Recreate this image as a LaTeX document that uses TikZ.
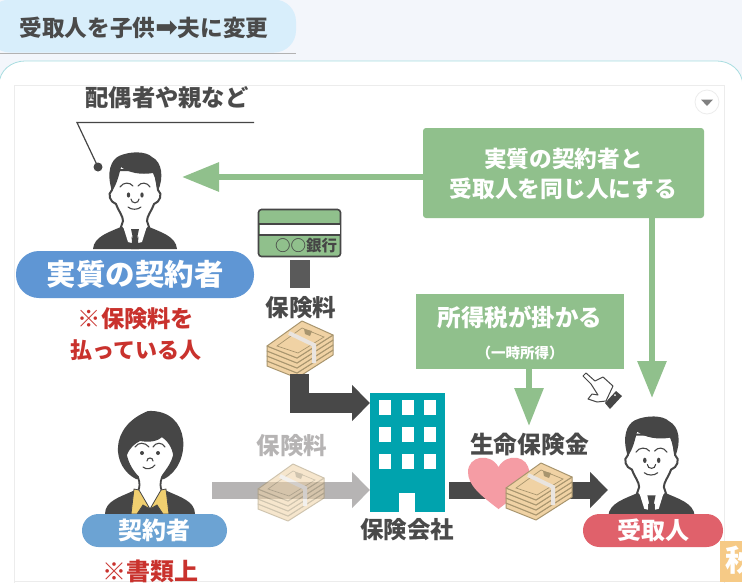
\documentclass[tikz,border=0pt]{standalone}
\usepackage{fontspec}
\setmainfont{Noto Sans CJK JP}
\newfontfamily\arrowfont{DejaVu Sans}
\usetikzlibrary{arrows.meta}
\definecolor{pagebg}{HTML}{F3F6FB}
\definecolor{titlebg}{HTML}{D8EEFB}
\definecolor{cardedge}{HTML}{A8DDE0}
\definecolor{frameedge}{HTML}{ECECEC}
\definecolor{inkdark}{HTML}{464646}
\definecolor{inktext}{HTML}{4A4A4A}
\definecolor{leaf}{HTML}{90C08C}
\definecolor{darkarrow}{HTML}{484848}
\definecolor{grayarrow}{HTML}{B6B4B4}
\definecolor{bluepill}{HTML}{5F96D4}
\definecolor{bluepilltwo}{HTML}{6CA3D3}
\definecolor{redpill}{HTML}{E0616B}
\definecolor{redtext}{HTML}{C9322D}
\definecolor{teal}{HTML}{00A3AE}
\definecolor{heartpink}{HTML}{F59CA4}
\definecolor{cash}{HTML}{F0D2A4}
\definecolor{cashline}{HTML}{A8956E}
\definecolor{strap}{HTML}{E9E4DF}
\definecolor{collar}{HTML}{F0CF70}
\definecolor{tile}{HTML}{F6CA86}
\tikzset{
  x=1pt,y=-1pt,
  txt/.style n args={2}{inner sep=0pt,font=\bfseries\fontsize{#1}{#1}\selectfont,text=#2,align=center},
  pill/.style n args={3}{fill=#1,minimum width=#2,minimum height=#3,rounded corners=16.4pt,inner sep=0pt,text=white},
  greenbox/.style={fill=leaf,inner sep=0pt,text=white},
  greenline/.style={draw=leaf,line width=6pt,-{Triangle[length=37pt,width=28pt]}},
  greenlineshort/.style={draw=leaf,line width=6pt,-{Triangle[length=38pt,width=28pt]}},
  blockdark/.style={draw=darkarrow,line width=18pt,-{Triangle[length=18pt,width=35pt]}},
  blockgray/.style={draw=grayarrow,line width=17pt,-{Triangle[length=18pt,width=35pt]}},
  faceline/.style={draw=inkdark,line width=1.1pt,line cap=round},
  pics/manfig/.style={code={
    \fill[inkdark] (8,99) .. controls (9,86) and (25,82) .. (38,76) -- (62,76) .. controls (75,82) and (91,86) .. (92,99) -- cycle;
    \draw[draw=inkdark,line width=2pt,fill=white] (27,40) .. controls (22,44) and (25,52) .. (31,54) .. controls (34,62) and (38,66) .. (38,71) -- (36,77) -- (50,92) -- (64,77) -- (62,71) .. controls (62,66) and (66,62) .. (69,54) .. controls (75,52) and (78,44) .. (73,40) -- (70,20) -- (30,20) -- cycle;
    \fill[inkdark] (27,41) .. controls (21,22) and (26,10) .. (34,6) .. controls (45,1) and (61,1) .. (67,7) .. controls (77,12) and (79,27) .. (73,41) .. controls (71,35) and (71,29) .. (68,23) .. controls (56,25) and (44,23) .. (36,17) .. controls (34,25) and (32,34) .. (27,41) -- cycle;
    \draw[faceline] (35,37) .. controls (38,32) and (45,32) .. (48,36);
    \draw[faceline] (53,36) .. controls (56,32) and (62,32) .. (65,37);
    \fill[inkdark] (43.5,45) ellipse [x radius=1.7,y radius=2.6];
    \fill[inkdark] (57,45) ellipse [x radius=1.7,y radius=2.6];
    \draw[faceline] (46,49) .. controls (46,54) and (54,54) .. (54,49);
    \draw[faceline] (43,57) .. controls (46,60) and (53,60) .. (56,57);
    \fill[white] (38,76) -- (46,80) -- (47,93) -- (43,92) -- cycle;
    \fill[white] (62,76) -- (54,80) -- (53,93) -- (57,92) -- cycle;
    \fill[inkdark] (46,79) -- (54,79) -- (52.5,86) -- (54,99) -- (46,99) -- (47.5,86) -- cycle;
  }},
  pics/womanfig/.style={code={
    \fill[inkdark] (5,109) .. controls (5,96) and (20,92) .. (33,86) -- (67,86) .. controls (80,92) and (95,96) .. (95,109) -- cycle;
    \fill[inkdark] (36,74) .. controls (12,62) and (8,22) .. (48,6) .. controls (92,4) and (92,60) .. (64,74) -- cycle;
    \draw[draw=inkdark,line width=1.8pt,fill=white] (26,50) .. controls (29,42) and (34,38) .. (40,35) .. controls (50,37) and (58,35) .. (62,31) .. controls (68,35) and (73,42) .. (74,50) .. controls (72,60) and (64,68) .. (62,72) .. controls (60,78) and (60,82) .. (62,86) -- (50,106) -- (38,86) .. controls (40,82) and (40,78) .. (38,72) .. controls (34,68) and (28,60) .. (26,50) -- cycle;
    \draw[draw=inkdark,line width=.8pt,fill=collar] (34,84) -- (39,85) -- (50,104) -- (43,100) -- (37,109) -- (31,109) -- cycle;
    \draw[draw=inkdark,line width=.8pt,fill=collar] (66,84) -- (61,85) -- (50,104) -- (57,100) -- (63,109) -- (69,109) -- cycle;
    \draw[faceline] (35,42) .. controls (38,37) and (45,37) .. (49,42);
    \draw[faceline] (53,42) .. controls (56,37) and (62,37) .. (65,42);
    \fill[inkdark] (42,48) circle [radius=2];
    \fill[inkdark] (58,48) circle [radius=2];
    \draw[faceline] (47,56) .. controls (47,52) and (53,52) .. (53,56);
    \draw[faceline] (43,62) .. controls (46,65) and (52,64) .. (55,60);
  }},
  pics/moneyfig/.style={code={
    \foreach \d in {15,10,5,0}{
      \draw[draw=cashline,line width=1pt,fill=cash,line join=round]
        (7,33+\d) -- (37,45+\d) -- (73,22+\d) -- (73,27+\d) -- (37,50+\d) -- (7,38+\d) -- cycle;
    }
    \draw[draw=cashline,line width=1pt,fill=cash,line join=round] (7,33) -- (42,8) -- (73,22) -- (37,45) -- cycle;
    \draw[draw=cashline,line width=.7pt] (17,33) -- (42,15) -- (64,24) -- (38,40) -- cycle;
    \fill[cashline] (44,16) -- (52,18) -- (50,23) -- (45,21) -- cycle;
    \draw[strap,line width=4pt] (29,20) -- (54,32) -- (54,50);
  }},
}
\begin{document}
\begin{tikzpicture}
\useasboundingbox (0,0) rectangle (742,582);
\clip (0,0) rectangle (742,582);
% page and card
\fill[pagebg] (0,0) rectangle (742,582);
\draw[cardedge,fill=white,line width=.8pt] (-1,590) -- (-1,85) .. controls (-1,70) and (12,61) .. (25,61) -- (717,61) .. controls (730,61) and (742,70) .. (743,85) -- (743,590) -- cycle;
\draw[frameedge,line width=.8pt] (14,590) -- (14,85) -- (724,85) -- (724,590);
\draw[frameedge,line width=.8pt] (14,581) -- (720,581);
% title
\draw[gray!60,line width=.8pt] (0,53.5) -- (296,53.5);
\node[pill={titlebg}{308pt}{53pt},rounded corners=22pt,text=inktext] (title) at (142,26) {};
\node[txt={22.6}{inktext}] (titletext) at (144,28) {受取人を子供{\arrowfont\fontsize{27}{27}\selectfont ➡}夫に変更};
% menu button
\node[circle,draw=frameedge,fill=white,minimum size=24pt,inner sep=0pt,line width=.8pt] (menu) at (707,102) {};
\fill[gray] (701,99.5) -- (713,99.5) -- (707,106) -- cycle;
% top-left man and caption
\pic at (85,150) {manfig};
\node[txt={23.3}{inktext}] (spouse) at (167,98) {配偶者や親など};
\coordinate (leaderA) at (254,122.5);
\coordinate (leaderB) at (77,122.5);
\coordinate (leaderC) at (98,167);
\draw[inkdark,line width=1.2pt] (leaderA) -- (leaderB) -- (leaderC);
\fill[inkdark] (leaderC) circle [radius=4.5];
\node[pill={bluepill}{238pt}{47pt},rounded corners=23pt,txt={29.5}{white}] (payer) at (135,274.5) {実質の契約者};
\node[txt={23.3}{redtext}] (payernote) at (136,319) {※保険料を};
\node[txt={22}{redtext}] (payernoteb) at (136,350) {払っている人};
% boxes
\node[greenbox,minimum width=281pt,minimum height=90pt,rounded corners=3pt] (sameperson) at (563.5,173) {};
\node[txt={22.7}{white},text width=281pt] (sametext) at (563.5,174) {実質の契約者と\\[8pt]受取人を同じ人にする};
\node[greenbox,minimum width=208pt,minimum height=75pt] (taxbox) at (520,331.5) {};
\node[txt={23.5}{white}] (taxtext) at (520,317) {所得税が掛かる};
\node[txt={14.5}{white}] (taxsub) at (520,353) {（一時所得）};
% building
\node[fill=teal,minimum width=75pt,minimum height=119pt,inner sep=0pt] (bldg) at (407.5,452.5) {};
\foreach \wx in {379,402,424}{\foreach \wy in {400,427,454}{\fill[white] (\wx,\wy) rectangle (\wx+11.5,\wy+14.5);}}
\fill[white] (399,493) rectangle (415,512);
\node[txt={23.5}{inktext}] (bldglabel) at (407,530) {保険会社};
% bank
\node[draw=inkdark,line width=1.6pt,fill=leaf,rounded corners=3pt,minimum width=82pt,minimum height=47pt,inner sep=0pt] (bank) at (299.5,233) {};
\fill[white] (259.5,224) rectangle (339.5,234);
\draw[inkdark,line width=1.2pt] (259,224) -- (340,224) (259,235) -- (340,235);
\node[txt={15.5}{inkdark}] (banklabel) at (306,245.5) {○○銀行};
\node[fill=darkarrow!90!white,minimum width=20pt,minimum height=28pt,inner sep=0pt] (barstub) at (299.5,274) {};
\node[txt={23.5}{inktext}] (fee) at (301,308) {保険料};
\pic at (260,313) {moneyfig};
% connectors
\coordinate (tipA) at (182,177);
\coordinate (tipB) at (652,398);
\coordinate (tipC) at (529,426);
\coordinate (startL) at (299.5,374);
\coordinate (tipL) at (370,403);
\coordinate (startG) at (212,490);
\coordinate (tipG) at (370,490);
\coordinate (startD) at (449,490);
\coordinate (tipD) at (608,490);
\draw[greenline] (sameperson.west |- tipA) -- (tipA);
\draw[greenline] (tipB |- sameperson.south) -- (tipB);
\draw[greenlineshort] (tipC |- taxbox.south) -- (tipC);
\draw[blockdark,line width=19.5pt] (startL) |- (tipL);
\draw[blockgray] (startG) -- (tipG);
\draw[blockdark,line width=17pt] (startD) -- (tipD);
% woman
\pic at (100,405) {womanfig};
\node[pill={bluepilltwo}{145pt}{33pt},txt={24}{white}] (holder) at (154.5,530.5) {契約者};
\node[txt={24}{redtext}] (holdernote) at (150,571) {※書類上};
% faded fee
\node[txt={23.5}{grayarrow}] (feefaded) at (292,446) {保険料};
\begin{scope}[opacity=.55,transparency group]
\pic at (251,456) {moneyfig};
\end{scope}
% payout
\fill[heartpink] (498.5,509) .. controls (480,495) and (468,485) .. (468,472) .. controls (468,456) and (490,452) .. (498.5,467) .. controls (507,452) and (529,456) .. (529,472) .. controls (529,485) and (517,495) .. (498.5,509) -- cycle;
\pic at (499,455) {moneyfig};
\node[txt={23.8}{inktext}] (payout) at (529.5,444) {生命保険金};
% receiver
\pic[scale=1.03] at (600,414) {manfig};
\node[pill={redpill}{140pt}{33pt},txt={24}{white}] (receiver) at (653,530.5) {受取人};
% pointer hand
\begin{scope}[shift={(575,365)}]
\draw[draw=inkdark,line width=1pt,fill=white,line join=round] (8,11) -- (11,8) -- (20,16) -- (28,12) -- (38,21) -- (31,36) -- (22,37) -- (13,34) -- (17,29) -- (23,30) -- (16,19) -- cycle;
\fill[inkdark] (30,38) -- (41,26) -- (47,31) -- (35,44) -- cycle;
\fill[white] (40,30) circle [radius=1];
\end{scope}
% corner tile
\begin{scope}
\clip (720,541) rectangle (742,582);
\fill[tile] (720,541) rectangle (742,582);
\node[txt={30}{white}] (tilemark) at (740,560) {秋};
\end{scope}
\end{tikzpicture}
\end{document}
